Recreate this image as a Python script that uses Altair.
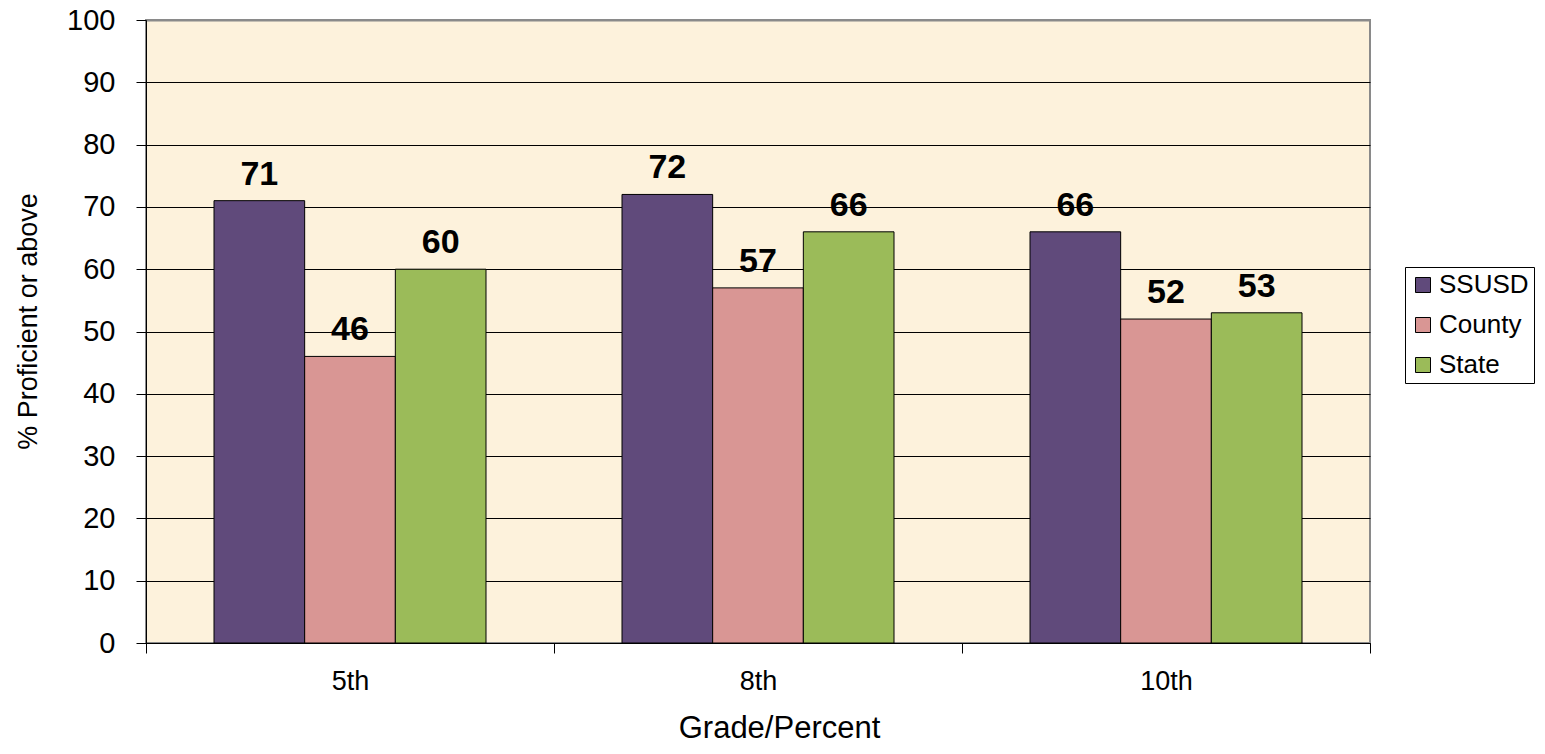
import altair as alt
import pandas as pd

grades = ["5th", "8th", "10th"]
series = ["SSUSD", "County", "State"]
ssusd = [71, 72, 66]
county = [46, 57, 52]
state = [60, 66, 53]
colors = ["#604A7B", "#D99694", "#9BBB59"]

rows = []
for i, g in enumerate(grades):
    for s, vals in zip(series, [ssusd, county, state]):
        rows.append({"grade": g, "series": s, "value": vals[i]})
df = pd.DataFrame(rows)

FONT = "Liberation Sans"

base = alt.Chart(df).encode(
    x=alt.X(
        "grade:N",
        sort=grades,
        scale=alt.Scale(paddingInner=0, paddingOuter=0),
        axis=alt.Axis(
            title="Grade/Percent",
            labelAngle=0,
            labelFontSize=27,
            labelPadding=15,
            labelColor="black",
            labelBaseline="top",
            tickBand="extent",
            tickSize=10,
            tickColor="black",
            domainColor="black",
            titleFontSize=31,
            titleFontWeight="normal",
            titleColor="black",
            titleX=633,
            titleY=94,
            titleBaseline="alphabetic",
        ),
    ),
    xOffset=alt.XOffset("series:N", sort=series,
                        scale=alt.Scale(paddingInner=0, paddingOuter=0.75)),
    y=alt.Y(
        "value:Q",
        scale=alt.Scale(domain=[0, 100]),
        axis=alt.Axis(
            title="% Proficient or above",
            values=list(range(0, 101, 10)),
            labelFontSize=29,
            labelColor="black",
            labelPadding=21,
            tickSize=10,
            tickColor="black",
            domainColor="black",
            grid=True,
            gridColor=alt.condition("datum.value == 100", alt.value("#8a8a8a"), alt.value("black")),
            gridWidth=alt.condition("datum.value == 100", alt.value(2), alt.value(1)),
            titleFontSize=27,
            titleFontWeight="normal",
            titleColor="black",
            titleX=-118,
            titleY=301,
            titleBaseline="middle",
            titleAlign="center",
        ),
    ),
)

bars = base.mark_bar(stroke="black", strokeWidth=1).encode(
    color=alt.Color(
        "series:N",
        sort=series,
        scale=alt.Scale(domain=series, range=colors),
        legend=alt.Legend(
            title=None,
            orient="none",
            legendX=1259,
            legendY=247,
            symbolType="square",
            symbolSize=225,
            symbolStrokeColor="black",
            symbolStrokeWidth=1,
            symbolOpacity=1,
            labelFontSize=26,
            labelColor="black",
            rowPadding=14,
            padding=5,
            strokeColor="black",
            fillColor="white",
            labelOffset=3,
        ),
    )
)

labels = base.mark_text(
    baseline="alphabetic", dy=-16, fontSize=34, fontWeight="bold", color="black", font=FONT
).encode(text="value:Q")

chart = (
    alt.layer(bars, labels)
    .properties(
        width=1224,
        height=623,
        autosize=alt.AutoSizeParams(type="none"),
        padding={"left": 138, "top": 12, "right": 166, "bottom": 102},
    )
    .configure(font=FONT, background="white")
    .configure_view(fill="#FDF2DC", stroke="#8a8a8a", strokeWidth=2)
)

chart.save("out.html", embed_options={"renderer": "svg", "actions": False})
